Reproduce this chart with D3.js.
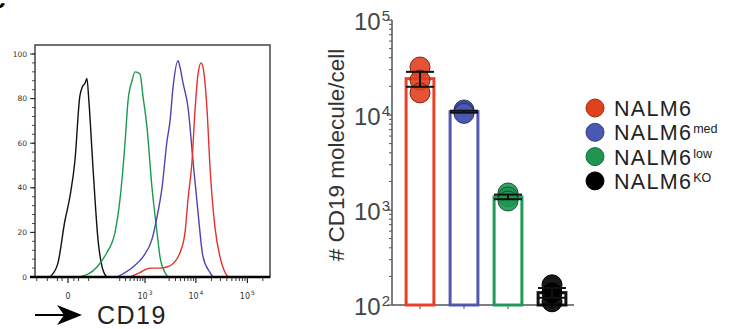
<!DOCTYPE html>
<html>
<head>
<meta charset="utf-8">
<script src="https://cdn.jsdelivr.net/npm/d3@7"></script>
<style>
body { margin: 0; background: #fff; }
svg { display: block; }
text { font-family: "Liberation Sans", Arial, sans-serif; }
</style>
</head>
<body>
<svg id="fig" width="730" height="329"></svg>
<script>
// histogram traces: [CD19 fluorescence, % of max]
var histBlack = [[-41,0],[-19,6],[-5,25],[3,36],[12,52],[23,81],[29,85],[38,87],[44,89],[51,79],[68,49],[93,17],[125,3],[155,0]];
var histGreen = [[23,0],[88,4.5],[155,11],[237,20],[305,35],[389,60],[450,79],[545,88],[627,92],[792,91],[910,81],[1096,67],[1378,40],[1733,20],[1984,9],[2488,2],[2854,0]];
var histBlue = [[262,0],[570,4.5],[910,9],[1378,17],[1733,27],[2172,40],[2726,61],[3125,70],[3577,85],[4481,97],[4904,94],[5610,87],[7022,76],[8788,52],[10996,29],[13754,9],[18826,2],[21569,0]];
var histRed = [[495,0],[792,2],[1257,4],[1984,4],[2726,4.5],[3577,6],[4904,11],[6138,20],[7022,35],[8412,52],[9616,75],[10996,91],[12600,96],[13754,94],[16467,75],[18826,49],[23546,22],[29450,9],[36894,2],[42174,0]];
var histYTicks = [0, 20, 40, 60, 80, 100];
var histXMajor = [0, 1e3, 1e4, 1e5];
var histXLabels = [["0",""],["10","3"],["10","4"],["10","5"]];

// bar chart: replicate molecules/cell per line
var lines = ["NALM6", "NALM6med", "NALM6low", "NALM6KO"];
var lineBase = ["NALM6", "NALM6", "NALM6", "NALM6"];
var lineSup = ["", "med", "low", "KO"];
var repRed = [32000, 23300, 17100];
var repBlue = [11300, 10800, 10400];
var repGreen = [1510, 1370, 1245];
var repBlack = [163, 134, 108];
var logTicks = [100, 1000, 10000, 100000];

var colors = ["#e8402a", "#5058b0", "#1f9a58", "#111111"];
var dotFill = ["#e0401e", "#4a58b4", "#1e9650", "#000000"];

var svg = d3.select("#fig");

// base text + raised superscript as two separate texts
function supLabel(g, x, y, base, sup, size, supSize, rise, anchor, fill, family, spacing) {
  var gap = sup ? 1 : 0;
  var t = g.append("text").attr("y", y).style("font-size", size + "px").attr("fill", fill).text(base);
  if (family) t.style("font-family", family);
  if (spacing) t.style("letter-spacing", spacing + "px");
  var w = t.node().getComputedTextLength();
  var s = g.append("text").attr("y", y - rise).style("font-size", supSize + "px").attr("fill", fill).text(sup);
  if (family) s.style("font-family", family);
  var ws = sup ? s.node().getComputedTextLength() : 0;
  var x0 = x;
  if (anchor === "end") x0 = x - w - gap - ws;
  if (anchor === "middle") x0 = x - (w + gap + ws) / 2;
  t.attr("x", x0);
  s.attr("x", x0 + w + gap);
}

// panel letter, mostly cropped
svg.append("text").attr("x", -9).attr("y", 8)
  .style("font-size", "26px").style("font-weight", "bold").text("c");

// ---------- left: flow histogram ----------
var hx = d3.scaleSymlog().constant(33).domain([-111, 275000]).range([35, 270]);
var hy = d3.scaleLinear().domain([0, 100]).range([277, 54]);

svg.append("rect").attr("x", 35).attr("y", 45).attr("width", 235).attr("height", 232)
  .attr("fill", "none").attr("stroke", "#444").attr("stroke-width", 1.5);

var histLine = d3.line().x(function(d){ return hx(d[0]); }).y(function(d){ return hy(d[1]); })
  .curve(d3.curveMonotoneX);
[histBlack, histGreen, histBlue, histRed].forEach(function(h, i) {
  var c = ["#111", "#1a9a50", "#4b45b0", "#e8302a"][i];
  svg.append("path").datum(h).attr("d", histLine)
    .attr("fill", "none").attr("stroke", c).attr("stroke-width", 1.4);
});

// y axis of histogram
var yMinor = d3.range(0, 101, 4);
svg.append("g").selectAll("line").data(yMinor).enter().append("line")
  .attr("x1", 32).attr("x2", 35).attr("y1", function(d){ return hy(d); }).attr("y2", function(d){ return hy(d); })
  .attr("stroke", "#222").attr("stroke-width", 0.8);
svg.append("g").selectAll("line").data(histYTicks).enter().append("line")
  .attr("x1", 30).attr("x2", 35).attr("y1", function(d){ return hy(d); }).attr("y2", function(d){ return hy(d); })
  .attr("stroke", "#222").attr("stroke-width", 1);
svg.append("g").selectAll("text").data(histYTicks).enter().append("text")
  .attr("x", 27).attr("y", function(d){ return hy(d); }).attr("dy", "0.35em")
  .attr("text-anchor", "end").style("font-size", "7.5px").style("font-family", "DejaVu Sans")
  .attr("fill", "#333").text(function(d){ return d; });

// x axis of histogram
svg.append("line").attr("x1", 30).attr("x2", 270).attr("y1", 277).attr("y2", 277)
  .attr("stroke", "#000").attr("stroke-width", 2.5);
var xMinor = [-100, -50, -20, -10, 10, 20, 50];
[2, 3].forEach(function(k) {
  [3, 4, 5, 6, 7, 8, 9].forEach(function(m){ xMinor.push(m * Math.pow(10, k)); });
});
[2, 3, 4, 5, 6, 7, 8, 9].forEach(function(m){ xMinor.push(m * 1e4); });
xMinor.push(200000);
svg.append("g").selectAll("line").data(xMinor).enter().append("line")
  .attr("x1", function(d){ return hx(d); }).attr("x2", function(d){ return hx(d); })
  .attr("y1", 277).attr("y2", 281).attr("stroke", "#222").attr("stroke-width", 0.9);
svg.append("g").selectAll("line").data(histXMajor).enter().append("line")
  .attr("x1", function(d){ return hx(d); }).attr("x2", function(d){ return hx(d); })
  .attr("y1", 277).attr("y2", 283).attr("stroke", "#222").attr("stroke-width", 1.2);
var hxg = svg.append("g");
histXMajor.forEach(function(v, i) {
  supLabel(hxg, hx(v), 298.5, histXLabels[i][0], histXLabels[i][1], 8, 6, 4, "middle", "#333", "DejaVu Sans");
});

// arrow + CD19
svg.append("line").attr("x1", 35).attr("x2", 66).attr("y1", 315).attr("y2", 315)
  .attr("stroke", "#000").attr("stroke-width", 2);
svg.append("path").attr("d", "M82,315 L57,305 L64,315 L57,325 Z").attr("fill", "#000");
svg.append("text").attr("x", 97).attr("y", 323.5).style("font-size", "25px")
  .style("letter-spacing", "1.5px").attr("fill", "#222").text("CD19");

// ---------- right: bar chart ----------
var reps = [repRed, repBlue, repGreen, repBlack];
var stats = reps.map(function(r) {
  var m = d3.mean(r);
  var se = d3.deviation(r) / Math.sqrt(r.length);
  return { mean: m, lo: m - se, hi: m + se };
});

var bx = d3.scaleBand().domain(lines).range([398, 574]).paddingInner(0.3).paddingOuter(0.15);
var by = d3.scaleLog().domain([100, 100000]).range([305, 20]);

// y axis
var minorLog = [];
[100, 1000, 10000].forEach(function(p) {
  d3.range(2, 10).forEach(function(m){ minorLog.push(m * p); });
});
svg.append("line").attr("x1", 392).attr("x2", 392).attr("y1", 20).attr("y2", 305)
  .attr("stroke", "#555").attr("stroke-width", 1.5);
svg.append("g").selectAll("line").data(minorLog).enter().append("line")
  .attr("x1", 389).attr("x2", 392).attr("y1", function(d){ return by(d); }).attr("y2", function(d){ return by(d); })
  .attr("stroke", "#555").attr("stroke-width", 1);
svg.append("g").selectAll("line").data(logTicks).enter().append("line")
  .attr("x1", 387).attr("x2", 392).attr("y1", function(d){ return by(d); }).attr("y2", function(d){ return by(d); })
  .attr("stroke", "#555").attr("stroke-width", 1.2);
var byg = svg.append("g");
logTicks.forEach(function(v) {
  supLabel(byg, 390, by(v) + 10, "10", String(Math.round(Math.log10(v))), 24, 15, 9, "end", "#444");
});

svg.append("text").attr("transform", "translate(344,155) rotate(-90)")
  .attr("text-anchor", "middle").style("font-size", "22.5px").attr("fill", "#333")
  .text("# CD19 molecule/cell");

// x axis
svg.append("line").attr("x1", 392).attr("x2", 574).attr("y1", 305).attr("y2", 305)
  .attr("stroke", "#555").attr("stroke-width", 1.5);
svg.append("g").selectAll("line").data(lines).enter().append("line")
  .attr("x1", function(d){ return bx(d) + bx.bandwidth() / 2; })
  .attr("x2", function(d){ return bx(d) + bx.bandwidth() / 2; })
  .attr("y1", 305).attr("y2", 309).attr("stroke", "#555").attr("stroke-width", 1);

// bars
svg.append("g").selectAll("rect").data(stats).enter().append("rect")
  .attr("x", function(d, i){ return bx(lines[i]) + 1.5; })
  .attr("width", bx.bandwidth() - 3)
  .attr("y", function(d){ return by(d.mean); })
  .attr("height", function(d){ return 305 - by(d.mean); })
  .attr("fill", "#fff").attr("stroke", function(d, i){ return colors[i]; }).attr("stroke-width", 3);

// replicate dots
reps.forEach(function(r, i) {
  var cx = bx(lines[i]) + bx.bandwidth() / 2;
  svg.append("g").selectAll("circle").data(r).enter().append("circle")
    .attr("cx", cx).attr("cy", function(d){ return by(d); }).attr("r", 10)
    .attr("fill", dotFill[i]).attr("fill-opacity", 0.9)
    .attr("stroke", i === 3 ? "#000" : d3.color(dotFill[i]).darker(1.5)).attr("stroke-width", 1);
});

// error bars (SEM)
stats.forEach(function(s, i) {
  var cx = bx(lines[i]) + bx.bandwidth() / 2;
  var g = svg.append("g").attr("stroke", "#111").attr("stroke-width", 2);
  g.append("line").attr("x1", cx).attr("x2", cx).attr("y1", by(s.hi)).attr("y2", by(s.lo));
  [s.hi, s.lo].forEach(function(v) {
    g.append("line").attr("x1", cx - 14).attr("x2", cx + 14).attr("y1", by(v)).attr("y2", by(v));
  });
});

// legend
lines.forEach(function(d, i) {
  var cy = 108 + i * 24.3;
  var g = svg.append("g");
  g.append("circle").attr("cx", 595).attr("cy", cy).attr("r", 9).attr("fill", dotFill[i])
    .attr("stroke", i === 3 ? "#000" : d3.color(dotFill[i]).darker(1)).attr("stroke-width", 1);
  supLabel(g, 614, cy + 8, lineBase[i], lineSup[i], 21.5, 12.5, 7, "start", "#222", null, 1.3);
});
</script>
</body>
</html>
